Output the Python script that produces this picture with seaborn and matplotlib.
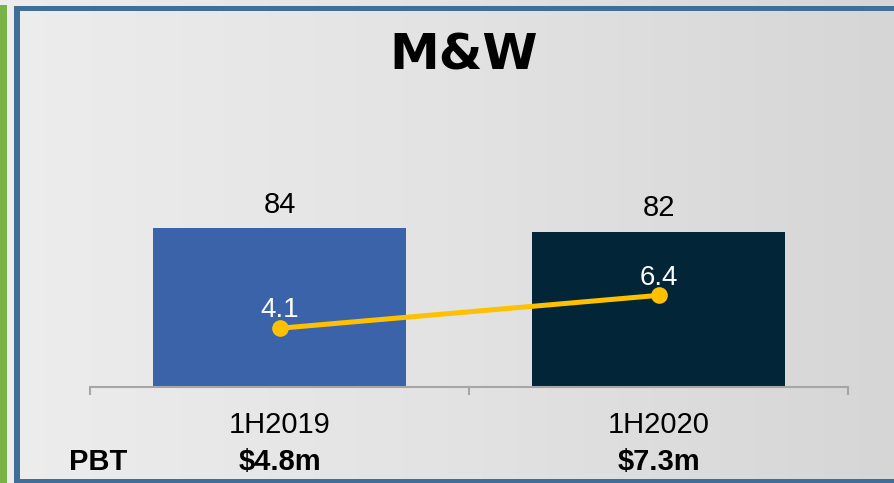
import matplotlib
matplotlib.use("Agg")
import matplotlib.pyplot as plt
from matplotlib.patches import Rectangle
from matplotlib.colors import LinearSegmentedColormap
import matplotlib.transforms as mtransforms
import numpy as np
import seaborn as sns

## data
periods = ["1H2019", "1H2020"]
volume = [84, 82]
margin = [4.1, 6.4]
pbt = ["$4.8m", "$7.3m"]

sns.set_theme(style="white")
plt.rcParams["font.family"] = ["Liberation Sans", "DejaVu Sans"]
plt.rcParams["text.color"] = "black"
plt.rcParams["xtick.color"] = "black"

W, H = 894, 483
fig = plt.figure(figsize=(W / 100, H / 100), dpi=100)

## background gradient + frame
bg = fig.add_axes([0, 0, 1, 1], zorder=-10)
cmap = LinearSegmentedColormap.from_list("bg", ["#ededed", "#e3e3e3", "#d6d6d6"])
bg.imshow(np.linspace(0, 1, 256)[None, :], aspect="auto", cmap=cmap, extent=[0, 1, 0, 1])
bg.axis("off")

blue = "#3f6e98"
fig.add_artist(Rectangle((0, 0), 7 / W, (H - 5) / H, transform=fig.transFigure, color="#77b347", lw=0))
fig.add_artist(Rectangle((14 / W, 0), 6 / W, (H - 6) / H, transform=fig.transFigure, color=blue, lw=0))
fig.add_artist(Rectangle((14 / W, (H - 11) / H), 1, 5 / H, transform=fig.transFigure, color=blue, lw=0))
fig.add_artist(Rectangle((14 / W, 0), 1, 4 / H, transform=fig.transFigure, color=blue, lw=0))

## main axes
ax = fig.add_axes([90 / W, (H - 387) / H, 758 / W, 189 / H])
ax.set_facecolor("none")

sns.barplot(
    x=periods,
    y=volume,
    hue=periods,
    palette=["#3b63aa", "#022538"],
    saturation=1,
    width=0.667,
    linewidth=0,
    legend=False,
    ax=ax,
)
ax.set_xlim(-0.5, 1.5)
ax.set_ylim(0, 100)
for c in ax.containers:
    ax.bar_label(c, fmt="%d", padding=7, fontsize=21, color="black")

sns.despine(ax=ax, left=True, top=True, right=True)
ax.spines["bottom"].set_color("#a6a6a6")
ax.spines["bottom"].set_linewidth(1.5)
ax.set_yticks([])
ax.set_xticks(range(len(periods)))
ax.set_xticklabels(periods, fontsize=21, color="black")
ax.tick_params(axis="x", which="major", length=0, pad=17)
ax.set_xticks([-0.5, 0.5, 1.5], minor=True)
ax.tick_params(axis="x", which="minor", length=6, width=1.5, color="#a6a6a6", direction="out", bottom=True)
ax.set_xlabel("")
ax.set_ylabel("")

## margin line on secondary axis
ax2 = ax.twinx()
ax2.set_facecolor("none")
sns.lineplot(
    x=np.arange(len(periods)),
    y=margin,
    ax=ax2,
    color="#ffc000",
    linewidth=3.6,
    marker="o",
    markersize=12,
    markeredgewidth=0,
)
ax2.set_ylim(0, 13.2)
ax2.set_yticks([])
for s in ax2.spines.values():
    s.set_visible(False)
for i, v in enumerate(margin):
    ax2.annotate(f"{v}", (i, v), xytext=(0, 4 if i == 0 else 3), textcoords="offset points",
                 ha="center", va="bottom", fontsize=20, color="white")

## title and PBT row
fig.text(464 / W, (H - 56) / H, "M&W", ha="center", va="center",
         fontsize=36, fontweight="bold", family="DejaVu Sans", color="black")
fig.text(98.5 / W, (H - 470) / H, "PBT", ha="center", va="baseline", fontsize=21, fontweight="bold")
trans = mtransforms.blended_transform_factory(ax.transData, fig.transFigure)
for i, t in enumerate(pbt):
    ax.text(i, (H - 470) / H, t, transform=trans, ha="center", va="baseline",
            fontsize=21, fontweight="bold", clip_on=False)

fig.savefig("out.png", dpi=100)
